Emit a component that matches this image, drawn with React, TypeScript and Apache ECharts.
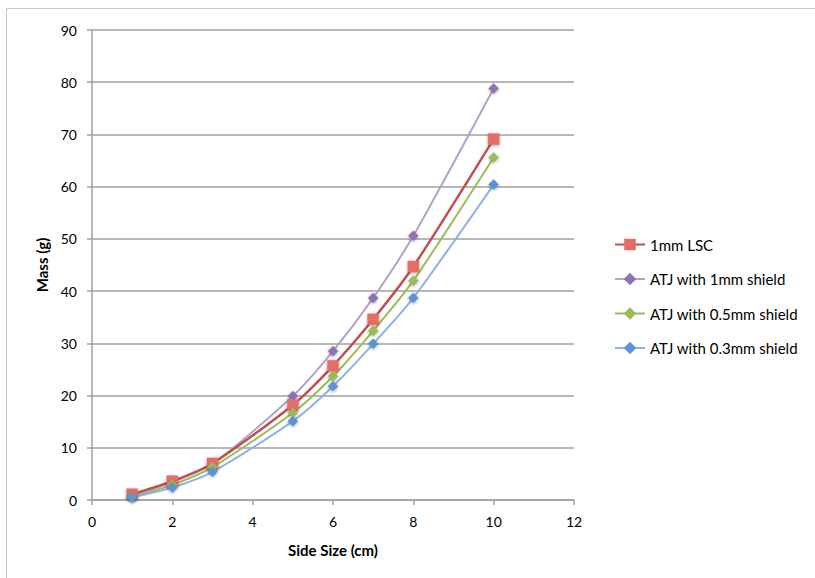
import React, { useEffect, useRef } from "react";
import * as echarts from "echarts";

const sideSizes = [1, 2, 3, 5, 6, 7, 8, 10];
const lsc1mm = [1.1, 3.6, 7.0, 18.2, 25.7, 34.6, 44.7, 69.1];
const atj1mm = [0.8, 3.4, 6.9, 19.9, 28.5, 38.7, 50.6, 78.8];
const atj05mm = [0.6, 2.9, 6.3, 16.7, 23.7, 32.4, 42.0, 65.6];
const atj03mm = [0.5, 2.4, 5.4, 15.1, 21.8, 29.9, 38.7, 60.4];

const seriesNames = [
  "1mm LSC",
  "ATJ with 1mm shield",
  "ATJ with 0.5mm shield",
  "ATJ with 0.3mm shield",
];

const FONT = "Lato, 'Open Sans', sans-serif";

export default function App() {
  const ref = useRef<HTMLDivElement>(null);
  useEffect(() => {
    document.body.style.margin = "0";
    if (!ref.current) return;
    const chart = echarts.init(ref.current, undefined, { renderer: "svg" });
    const pair = (ys: number[]) => sideSizes.map((x, i) => [x, ys[i]]);
    const mk = (
      name: string,
      ys: number[],
      lineColor: string,
      markColor: string,
      symbol: string,
      size: number,
      width: number
    ) => ({
      name,
      type: "line",
      data: pair(ys),
      smooth: 0.25,
      symbol,
      symbolSize: size,
      lineStyle: { color: lineColor, width },
      itemStyle: {
        color: markColor,
        borderColor: markColor,
        borderWidth: 0.5,
        shadowBlur: 3,
        shadowColor: "rgba(0,0,0,0.35)",
        shadowOffsetY: 1,
      },
      emphasis: { disabled: true },
    });
    chart.setOption({
      animation: false,
      backgroundColor: "#ffffff",
      textStyle: { fontFamily: FONT },
      graphic: [
        {
          type: "rect",
          shape: { x: 6.5, y: 8.5, width: 820, height: 580 },
          style: { fill: "none", stroke: "#c8c8c8", lineWidth: 1 },
          silent: true,
        },
      ],
      grid: { left: 92, right: 241, top: 30, bottom: 78, containLabel: false },
      legend: {
        orient: "vertical",
        left: 614,
        top: 237,
        padding: 0,
        itemWidth: 30,
        itemHeight: 12,
        itemGap: 19.5,
        data: seriesNames,
        textStyle: { fontFamily: FONT, fontSize: 15, color: "#000" },
      },
      xAxis: {
        type: "value",
        min: 0,
        max: 12,
        interval: 2,
        name: "Side Size (cm)",
        nameLocation: "middle",
        nameGap: 42,
        nameTextStyle: { fontFamily: FONT, fontSize: 15, fontWeight: "bold", color: "#000" },
        axisLine: { show: true, lineStyle: { color: "#a0a0a0", width: 1.5 } },
        axisTick: { show: true, length: 5, lineStyle: { color: "#a0a0a0", width: 1.5 } },
        axisLabel: { fontFamily: FONT, fontSize: 14, color: "#000", margin: 14 },
        splitLine: { show: false },
      },
      yAxis: {
        type: "value",
        min: 0,
        max: 90,
        interval: 10,
        name: "Mass (g)",
        nameLocation: "middle",
        nameGap: 42,
        nameRotate: 90,
        nameTextStyle: { fontFamily: FONT, fontSize: 15, fontWeight: "bold", color: "#000" },
        axisLine: { show: true, lineStyle: { color: "#a0a0a0", width: 1.5 } },
        axisTick: { show: true, length: 5, lineStyle: { color: "#a0a0a0", width: 1.5 } },
        axisLabel: { fontFamily: FONT, fontSize: 14, color: "#000", margin: 15 },
        splitLine: { show: true, lineStyle: { color: "#a0a0a0", width: 1.5 } },
      },
      series: [
        mk(seriesNames[1], atj1mm, "#b3a2c7", "#8e72b5", "diamond", 10, 2),
        mk(seriesNames[0], lsc1mm, "#c0504d", "#e46d68", "rect", 11, 2.5),
        mk(seriesNames[2], atj05mm, "#9bbb59", "#9bbb59", "diamond", 10, 2),
        mk(seriesNames[3], atj03mm, "#8db3e2", "#5b93d5", "diamond", 10, 2),
      ],
    });
    return () => chart.dispose();
  }, []);
  return <div ref={ref} style={{ width: 815, height: 578 }} />;
}
